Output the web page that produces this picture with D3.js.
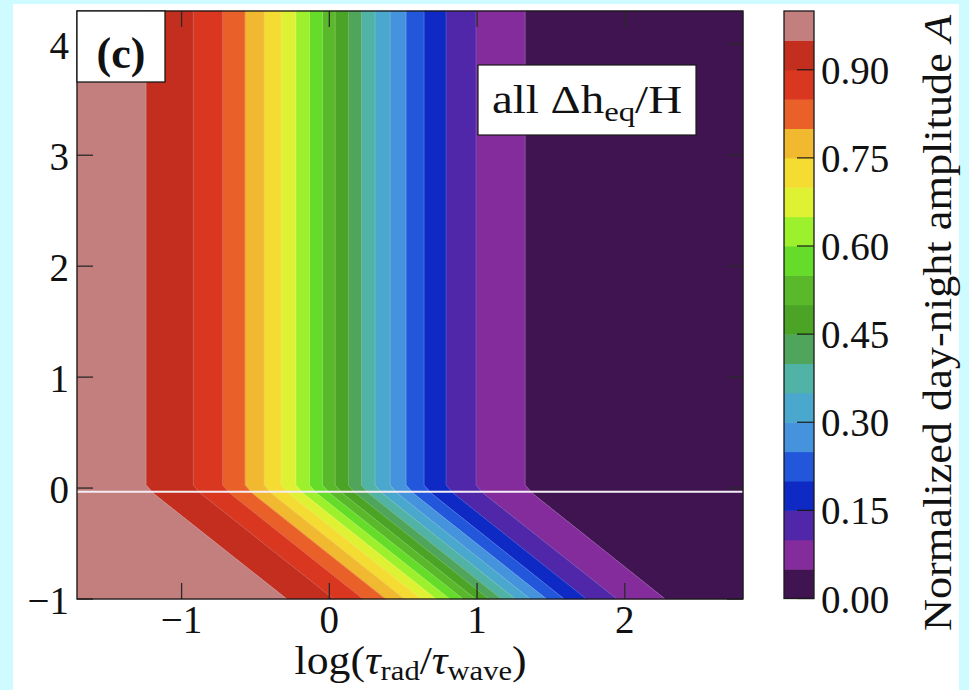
<!DOCTYPE html>
<html>
<head>
<meta charset="utf-8">
<script src="https://cdn.jsdelivr.net/npm/d3@7"></script>
<style>
  html, body { margin: 0; padding: 0; background: #cdfbff; }
  svg { display: block; }
  text { font-family: "Liberation Serif", "DejaVu Serif", serif; fill: #111; }
</style>
</head>
<body>
<svg id="chart" width="969" height="690"></svg>
<script>
// contour levels of the normalized amplitude A
const levels = [0, 0.05, 0.10, 0.15, 0.20, 0.25, 0.30, 0.35, 0.40, 0.45, 0.50,
                0.55, 0.60, 0.65, 0.70, 0.75, 0.80, 0.85, 0.90, 0.95, 1.00];

// fill colour of each band, from A=0 up to A=1
const bandColors = ["#3f1451", "#842c9b", "#5027a8", "#0e29c4", "#2357db",
                    "#4592dd", "#4aa7cd", "#50b3a6", "#4fa55c", "#4ba425",
                    "#5ab92a", "#66dc2a", "#9cf02c", "#dff133", "#f4dc33",
                    "#f1b92f", "#e96128", "#d9371f", "#c32e1f", "#c37e7e"];

// x of each contour line (A = 0.05 ... 0.95) in the upper, vertical part
const edgeTop = [1.325, 0.993, 0.790, 0.641, 0.519, 0.411, 0.309, 0.217, 0.129, 0.039,
                 -0.047, -0.135, -0.227, -0.327, -0.442, -0.571, -0.722, -0.921, -1.241];
// x of the same lines where they reach the bottom edge (y = -1)
const edgeBottom = [2.273, 1.947, 1.740, 1.590, 1.470, 1.360, 1.260, 1.165, 1.080, 0.990,
                    0.905, 0.815, 0.722, 0.622, 0.508, 0.380, 0.228, 0.030, -0.288];

const kinkY = -0.033;          // where the contours bend (white line)
const xTicks = [-1, 0, 1, 2];
const yTicks = [-1, 0, 1, 2, 3, 4];
const cbTicks = [0.00, 0.15, 0.30, 0.45, 0.60, 0.75, 0.90];

const svg = d3.select("#chart");

// white figure area
svg.append("rect").attr("x", 13).attr("y", 4).attr("width", 946).attr("height", 686)
    .attr("fill", "#ffffff");

const x = d3.scaleLinear().domain([-1.708, 2.8]).range([77, 743]);
const y = d3.scaleLinear().domain([-1, 4.3]).range([599, 11]);
const [x0, x1] = x.domain();
const [y0, y1] = y.domain();

// one contour line, top to bottom
function edgePts(i) {
    const xt = edgeTop[i], xb = edgeBottom[i];
    return [[xt, y1], [xt, kinkY + 0.06], [xt + 0.047, kinkY - 0.012], [xb, y0]];
}
function leftOf(band) {
    return band === levels.length - 2 ? [[x0, y1], [x0, y0]] : edgePts(band);
}
function rightOf(band) {
    return band === 0 ? [[x1, y1], [x1, y0]] : edgePts(band - 1);
}

const line = d3.line().x(d => x(d[0])).y(d => y(d[1]));

const plot = svg.append("g");
bandColors.forEach((c, i) => {
    const pts = leftOf(i).concat(rightOf(i).slice().reverse());
    plot.append("path")
        .attr("d", line(pts) + "Z")
        .attr("fill", c)
        .attr("stroke", c)
        .attr("stroke-width", 0.6);
});

// faint light seams along the contour lines
edgeTop.forEach((d, i) => {
    plot.append("path")
        .attr("d", line(edgePts(i)))
        .attr("fill", "none")
        .attr("stroke", "#ffffff")
        .attr("stroke-opacity", 0.22)
        .attr("stroke-width", 0.8);
});

// white horizontal line at the bend
plot.append("line")
    .attr("x1", x(x0)).attr("x2", x(x1))
    .attr("y1", y(kinkY)).attr("y2", y(kinkY))
    .attr("stroke", "#f4eef4").attr("stroke-width", 2);

// ticks on all four sides, pointing inward
const tickLen = 16;
const tickG = svg.append("g").attr("stroke", "#2a2a2a").attr("stroke-width", 1.3);
xTicks.forEach(t => {
    tickG.append("line").attr("x1", x(t)).attr("x2", x(t)).attr("y1", y(y0)).attr("y2", y(y0) - tickLen);
    tickG.append("line").attr("x1", x(t)).attr("x2", x(t)).attr("y1", y(y1)).attr("y2", y(y1) + tickLen);
});
yTicks.forEach(t => {
    tickG.append("line").attr("x1", x(x0)).attr("x2", x(x0) + tickLen).attr("y1", y(t)).attr("y2", y(t));
    tickG.append("line").attr("x1", x(x1)).attr("x2", x(x1) - tickLen).attr("y1", y(t)).attr("y2", y(t));
});

// frame
svg.append("rect")
    .attr("x", x(x0)).attr("y", y(y1))
    .attr("width", x(x1) - x(x0)).attr("height", y(y0) - y(y1))
    .attr("fill", "none").attr("stroke", "#1a1a1a").attr("stroke-width", 1.3);

// tick labels
const fmt = d => d < 0 ? "\u2212" + Math.abs(d) : String(d);
svg.append("g").selectAll("text").data(xTicks).enter().append("text")
    .attr("x", d => x(d)).attr("y", 633)
    .attr("text-anchor", "middle").attr("font-size", 39)
    .text(fmt);
svg.append("g").selectAll("text").data(yTicks).enter().append("text")
    .attr("x", 69).attr("y", d => y(d)).attr("dy", "0.38em")
    .attr("text-anchor", "end").attr("font-size", 39)
    .text(fmt);

// x axis label
const xl = svg.append("text").attr("x", x(0.55)).attr("y", 674)
    .attr("text-anchor", "middle").attr("font-size", 40)
    .attr("textLength", 232).attr("lengthAdjust", "spacingAndGlyphs");
xl.append("tspan").text("log(");
xl.append("tspan").attr("font-style", "italic").text("\u03c4");
xl.append("tspan").attr("font-size", 28).attr("dy", 6).text("rad");
xl.append("tspan").attr("dy", -6).text("/");
xl.append("tspan").attr("font-style", "italic").text("\u03c4");
xl.append("tspan").attr("font-size", 28).attr("dy", 6).text("wave");
xl.append("tspan").attr("dy", -6).text(")");

// panel label box
svg.append("rect").attr("x", 77).attr("y", 11).attr("width", 88).attr("height", 71)
    .attr("fill", "#ffffff").attr("stroke", "#1a1a1a").attr("stroke-width", 1.3);
svg.append("text").attr("x", 121).attr("y", 68).attr("text-anchor", "middle")
    .attr("font-size", 44).attr("font-weight", "bold").text("(c)");

// annotation box
svg.append("rect").attr("x", 478).attr("y", 65).attr("width", 218).attr("height", 70)
    .attr("fill", "#ffffff").attr("stroke", "#1a1a1a").attr("stroke-width", 1.2);
const ann = svg.append("text").attr("x", 492).attr("y", 113).attr("font-size", 40)
    .attr("textLength", 190).attr("lengthAdjust", "spacingAndGlyphs");
ann.append("tspan").text("all \u0394h");
ann.append("tspan").attr("font-size", 28).attr("dy", 8).text("eq");
ann.append("tspan").attr("dy", -8).text("/H");

// colour bar
const cb = d3.scaleLinear().domain([0, 1]).range([598.5, 11]);
const cbX = 784, cbW = 30;
svg.append("g").selectAll("rect").data(bandColors).enter().append("rect")
    .attr("x", cbX).attr("width", cbW)
    .attr("y", (d, i) => cb(levels[i + 1]))
    .attr("height", (d, i) => cb(levels[i]) - cb(levels[i + 1]) + 0.5)
    .attr("fill", d => d);
svg.append("rect").attr("x", cbX).attr("y", cb(1)).attr("width", cbW).attr("height", cb(0) - cb(1))
    .attr("fill", "none").attr("stroke", "#1a1a1a").attr("stroke-width", 1.3);
svg.append("g").selectAll("line").data(cbTicks).enter().append("line")
    .attr("x1", cbX + cbW).attr("x2", cbX + cbW - 17)
    .attr("y1", d => cb(d)).attr("y2", d => cb(d))
    .attr("stroke", "#1a1a1a").attr("stroke-width", 1.2);
svg.append("g").selectAll("text").data(cbTicks).enter().append("text")
    .attr("x", 821).attr("y", d => cb(d)).attr("dy", "0.36em")
    .attr("font-size", 39)
    .text(d => d.toFixed(2));

// colour bar label
const cl = svg.append("text")
    .attr("transform", "translate(951,323) rotate(-90)")
    .attr("text-anchor", "middle").attr("font-size", 39)
    .attr("textLength", 616).attr("lengthAdjust", "spacingAndGlyphs");
cl.append("tspan").text("Normalized day-night amplitude ");
cl.append("tspan").attr("font-style", "italic").text("A");
</script>
</body>
</html>
